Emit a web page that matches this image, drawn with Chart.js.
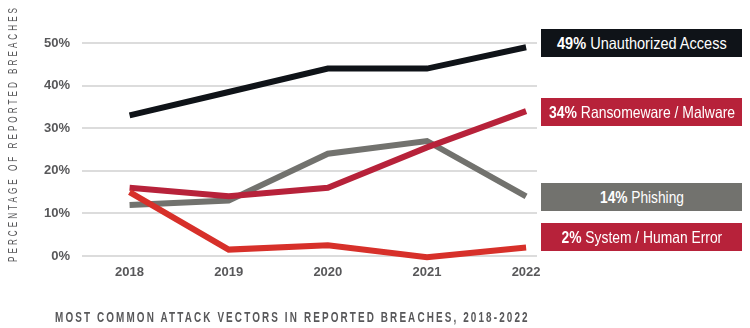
<!DOCTYPE html>
<html lang="en">
<head>
    <meta charset="UTF-8">
    <title>Attack Vectors in Reported Breaches</title>
    <script src="https://cdn.jsdelivr.net/npm/chart.js"></script>
    <style>
        body { margin: 0; background: #fff; }
        .wrap { position: relative; width: 750px; height: 328px; overflow: hidden; font-family: "Liberation Sans", Arial, sans-serif; }
        canvas { position: absolute; left: 0; top: 0; }
        .squeeze { display: inline-block; white-space: nowrap; transform-origin: 0 50%; }
        .ytitle {
            position: absolute; left: 5px; top: 262px; width: 257px; height: 15px; line-height: 15px;
            transform: rotate(-90deg); transform-origin: 0 0;
            color: #58585a; font-size: 13.5px; letter-spacing: 5px;
        }
        .caption {
            position: absolute; left: 55px; top: 309px; width: 475px; line-height: 16px;
            color: #58585a; font-size: 14px; font-weight: bold; letter-spacing: 3px;
        }
        .tag {
            position: absolute; left: 541px; width: 201px; height: 28px; line-height: 28px;
            color: #fff; font-size: 16.5px;
        }
        .tag .squeeze { position: absolute; left: 50%; }
        .tag b { font-weight: bold; }
    </style>
</head>
<body>
<div class="wrap">
    <canvas id="myChart" width="750" height="328"></canvas>
    <div class="ytitle"><span class="squeeze" data-w="257">PERCENTAGE OF REPORTED BREACHES</span></div>
    <div class="caption"><span class="squeeze" data-w="475">MOST COMMON ATTACK VECTORS IN REPORTED BREACHES, 2018-2022</span></div>
    <div id="tags"></div>
</div>
<script>
    const years = [2018, 2019, 2020, 2021, 2022];
    const yTicks = [0, 10, 20, 30, 40, 50];

    const seriesNames = ['Unauthorized Access', 'Ransomeware / Malware', 'Phishing', 'System / Human Error'];
    const unauthorized = [33, 38.5, 44, 44, 49];
    const ransomware = [16, 14, 16, 25.5, 34];
    const phishing = [12, 13, 24, 27, 14];
    const humanError = [15, 1.5, 2.5, -0.3, 2];

    const lineColors = ['#0f1318', '#b7223a', '#72726e', '#d7302a'];
    const tagColors = ['#0f1318', '#b7223a', '#72726e', '#b7223a'];
    const tagTops = [29, 98, 183, 223];
    const tagWidths = [170, 186, 84, 161];
    // lower order is painted on top: red over crimson over grey
    const drawOrder = [4, 2, 3, 1];

    const allSeries = [unauthorized, ransomware, phishing, humanError];

    const datasets = allSeries.map((vals, i) => ({
        label: seriesNames[i],
        data: vals.map((v, j) => ({ x: years[j], y: v })),
        borderColor: lineColors[i],
        borderWidth: 6,
        pointRadius: 0,
        tension: 0,
        clip: false,
        order: drawOrder[i]
    }));

    // right-hand labels, value taken from the last point of each series
    const tagBox = document.getElementById('tags');
    allSeries.forEach((vals, i) => {
        const d = document.createElement('div');
        d.className = 'tag';
        d.style.top = tagTops[i] + 'px';
        d.style.background = tagColors[i];
        d.innerHTML = '<span class="squeeze" data-w="' + tagWidths[i] + '" data-center="1"><b>' +
            vals[vals.length - 1] + '%</b> ' + seriesNames[i] + '</span>';
        tagBox.appendChild(d);
    });

    // condensed look: squeeze each text run horizontally to its set width
    document.querySelectorAll('.squeeze').forEach(el => {
        const target = +el.dataset.w;
        const k = target / el.offsetWidth;
        el.style.transform = (el.dataset.center ? 'translateX(' + (-target / 2) + 'px) ' : '') + 'scaleX(' + k + ')';
    });

    const tickFont = { family: '"Liberation Sans", Arial, sans-serif', size: 13, weight: 'bold' };

    new Chart(document.getElementById('myChart').getContext('2d'), {
        type: 'line',
        data: { datasets: datasets },
        options: {
            responsive: false,
            animation: false,
            layout: { padding: { top: 43, right: 213, left: 0, bottom: 0 } },
            plugins: { legend: { display: false }, tooltip: { enabled: false } },
            scales: {
                x: {
                    type: 'linear',
                    min: 2017.52,
                    max: 2022.11,
                    afterBuildTicks: s => { s.ticks = years.map(v => ({ value: v })); },
                    afterFit: s => { s.height = 72; },
                    grid: { display: false, drawTicks: false },
                    border: { display: false },
                    ticks: { color: '#58585a', font: tickFont, padding: 9, callback: v => String(v), maxRotation: 0 }
                },
                y: {
                    min: 0,
                    max: 50,
                    afterBuildTicks: s => { s.ticks = yTicks.map(v => ({ value: v })); },
                    afterFit: s => { s.width = 82; },
                    grid: { color: '#dcdcdc', lineWidth: 2, drawTicks: false },
                    border: { display: false },
                    ticks: { color: '#58585a', font: tickFont, padding: 12, callback: v => v + '%' }
                }
            }
        }
    });
</script>
</body>
</html>
